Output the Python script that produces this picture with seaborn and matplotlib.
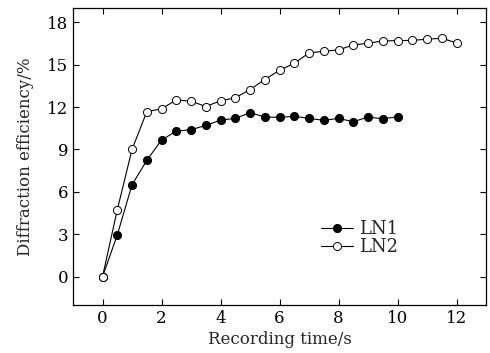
import matplotlib
matplotlib.use("Agg")
import matplotlib.pyplot as plt
import seaborn as sns
import pandas as pd

# Data
time_ln1 = [0, 0.5, 1, 1.5, 2, 2.5, 3, 3.5, 4, 4.5, 5, 5.5, 6, 6.5, 7, 7.5, 8, 8.5, 9, 9.5, 10]
eff_ln1 = [0, 2.95, 6.5, 8.23, 9.67, 10.3, 10.4, 10.7, 11.08, 11.2, 11.6, 11.3, 11.27, 11.35,
           11.2, 11.06, 11.2, 10.96, 11.3, 11.17, 11.31]
time_ln2 = [0, 0.5, 1, 1.5, 2, 2.5, 3, 3.5, 4, 4.5, 5, 5.5, 6, 6.5, 7, 7.5, 8, 8.5, 9, 9.5,
            10, 10.5, 11, 11.5, 12]
eff_ln2 = [0, 4.73, 9.0, 11.67, 11.88, 12.5, 12.42, 12.04, 12.44, 12.66, 13.24, 13.95, 14.6,
           15.1, 15.83, 15.95, 16.04, 16.4, 16.51, 16.68, 16.7, 16.72, 16.8, 16.87, 16.54]
labels = ["LN1", "LN2"]
xticks = [0, 2, 4, 6, 8, 10, 12]
yticks = [0, 3, 6, 9, 12, 15, 18]

sns.set_style("ticks")
plt.rcParams["font.family"] = ["DejaVu Serif"]
plt.rcParams["mathtext.fontset"] = "dejavuserif"

fig, ax = plt.subplots(figsize=(4.9, 3.53), dpi=100)
fig.subplots_adjust(left=0.149, right=0.992, top=0.977, bottom=0.136)

sns.lineplot(x=time_ln1, y=eff_ln1, ax=ax, color="black", lw=0.8, marker="o",
             markersize=5.8, markerfacecolor="black", markeredgecolor="black",
             label=labels[0])
sns.lineplot(x=time_ln2, y=eff_ln2, ax=ax, color="black", lw=0.8, marker="o",
             markersize=5.8, markerfacecolor="white", markeredgecolor="black",
             markeredgewidth=0.7, label=labels[1])

ax.set_xlim(-1, 13)
ax.set_ylim(-2, 19)
ax.set_xticks(xticks)
ax.set_yticks(yticks)
ax.tick_params(direction="in", length=4, width=0.8, top=True, right=True,
               labelsize=12, colors="black")
ax.tick_params(axis="x", labeltop=False)
ax.tick_params(axis="y", labelright=False)
for s in ax.spines.values():
    s.set_visible(True)
    s.set_linewidth(0.9)
    s.set_color("black")

ax.set_xlabel("Recording time/s", fontsize=12, labelpad=3)
ax.set_ylabel("Diffraction efficiency/%", fontsize=12, labelpad=9)

leg = ax.legend(loc="center left", bbox_to_anchor=(0.56, 0.225), frameon=False,
                fontsize=13, handlelength=1.8, handletextpad=0.35, labelspacing=0.0)

fig.savefig("out.png", dpi=100)
